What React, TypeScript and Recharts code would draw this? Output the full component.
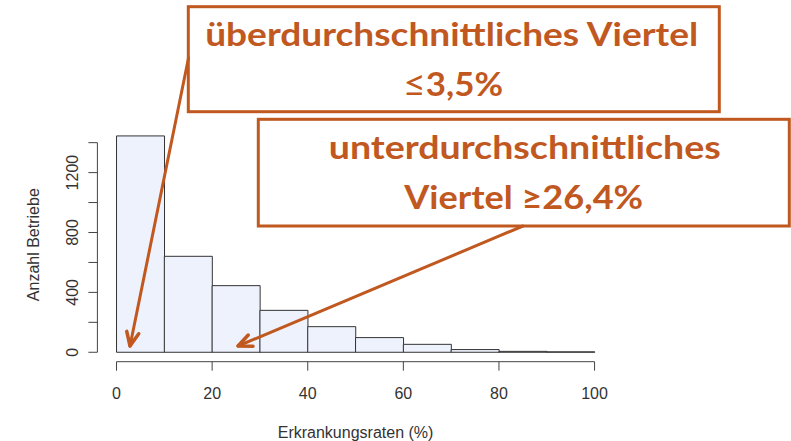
import { Bar, BarChart, ReferenceLine, XAxis, YAxis } from "recharts";

// histogram bins (10 % wide)
const binMids = [5, 15, 25, 35, 45, 55, 65, 75, 85, 95];
const counts = [1445, 641, 445, 280, 171, 98, 53, 18, 6, 3];
const xTicks = [0, 20, 40, 60, 80, 100];
const yTicks = [0, 200, 400, 600, 800, 1000, 1200, 1400];
const yLabelled = [0, 400, 800, 1200];

const topNote = ["überdurchschnittliches Viertel", "3,5%"];
const bottomNote = ["unterdurchschnittliches", "Viertel ≥26,4%"];

const data = binMids.map((mid, i) => ({ mid, count: counts[i] }));

const ORANGE = "#C0581F";
const AXIS = "#444";
const SANS = "'Liberation Sans', Arial, sans-serif";
const NOTE_FONT = "Lato, 'Open Sans', sans-serif";

function YTick({ x, y, payload }: any) {
  if (!yLabelled.includes(payload.value)) return <g />;
  return (
    <text
      x={x}
      y={y}
      transform={`rotate(-90, ${x}, ${y})`}
      textAnchor="middle"
      dominantBaseline="central"
      fontSize={16}
      fill="#333"
      fontFamily={SANS}
    >
      {payload.value}
    </text>
  );
}

function Arrow({ from, to }: { from: [number, number]; to: [number, number] }) {
  const ang = Math.atan2(to[1] - from[1], to[0] - from[0]);
  const len = 15;
  const spread = 0.42;
  const w1 = [to[0] - len * Math.cos(ang - spread), to[1] - len * Math.sin(ang - spread)];
  const w2 = [to[0] - len * Math.cos(ang + spread), to[1] - len * Math.sin(ang + spread)];
  return (
    <g stroke={ORANGE} strokeWidth={3} fill="none" strokeLinecap="round" strokeLinejoin="round">
      <line x1={from[0]} y1={from[1]} x2={to[0]} y2={to[1]} />
      <polyline points={`${w1[0]},${w1[1]} ${to[0]},${to[1]} ${w2[0]},${w2[1]}`} strokeWidth={3.5} />
    </g>
  );
}

export default function App() {
  return (
    <div style={{ position: "absolute", left: 0, top: 0, width: 791, height: 441, background: "#fff" }}>
      <BarChart
        width={791}
        height={441}
        data={data}
        margin={{ top: 127.7, right: 177.3, bottom: 0, left: 0 }}
        barCategoryGap={0}
        barGap={0}
        style={{ fontFamily: SANS }}
      >
        <XAxis
          dataKey="mid"
          type="number"
          domain={[-4, 104]}
          allowDataOverflow
          ticks={xTicks}
          interval={0}
          height={79.3}
          axisLine={false}
          tickSize={9}
          tickMargin={17}
          tickLine={{ stroke: AXIS }}
          tick={{ fill: "#333", fontSize: 16, fontFamily: SANS }}
          label={{ value: "Erkrankungsraten (%)", position: "center", dy: 31, fill: "#333", fontSize: 16 }}
        />
        <YAxis
          type="number"
          domain={[-63, 1500]}
          allowDataOverflow
          ticks={yTicks}
          interval={0}
          width={97.4}
          axisLine={false}
          tickSize={9}
          tickMargin={16}
          tickLine={{ stroke: AXIS }}
          tick={YTick}
          label={{ value: "Anzahl Betriebe", angle: -90, position: "center", dx: -15.5, fill: "#333", fontSize: 16 }}
        />
        <ReferenceLine segment={[{ x: 0, y: -63 }, { x: 100, y: -63 }]} stroke={AXIS} ifOverflow="visible" />
        <ReferenceLine segment={[{ x: -4, y: 0 }, { x: -4, y: 1400 }]} stroke={AXIS} ifOverflow="visible" />
        <Bar dataKey="count" fill="#EEF2FD" stroke="#333" strokeWidth={1} isAnimationActive={false} />
      </BarChart>

      <svg width={791} height={441} style={{ position: "absolute", left: 0, top: 0, pointerEvents: "none" }}>
        <rect x={188.3} y={6.7} width={531} height={105} fill="#fff" stroke={ORANGE} strokeWidth={3} />
        <text
          x={451.7}
          y={46}
          textAnchor="middle"
          fontFamily={NOTE_FONT}
          fontWeight={700}
          fontSize={32}
          fill={ORANGE}
          textLength={493}
          lengthAdjust="spacingAndGlyphs"
        >
          {topNote[0]}
        </text>
        <text
          x={453}
          y={96}
          textAnchor="middle"
          fontFamily={NOTE_FONT}
          fontWeight={700}
          fontSize={32}
          fill={ORANGE}
          textLength={100}
          lengthAdjust="spacingAndGlyphs"
        >
          <tspan fontWeight={400} fontSize={36}>≤</tspan>
          {topNote[1]}
        </text>

        <rect x={258.3} y={119.3} width={531} height={106.7} fill="#fff" stroke={ORANGE} strokeWidth={3} />
        <text
          x={524.8}
          y={158.5}
          textAnchor="middle"
          fontFamily={NOTE_FONT}
          fontWeight={700}
          fontSize={32}
          fill={ORANGE}
          textLength={392}
          lengthAdjust="spacingAndGlyphs"
        >
          {bottomNote[0]}
        </text>
        <text
          x={523.7}
          y={208.5}
          textAnchor="middle"
          fontFamily={NOTE_FONT}
          fontWeight={700}
          fontSize={32}
          fill={ORANGE}
          textLength={239}
          lengthAdjust="spacingAndGlyphs"
        >
          {bottomNote[1]}
        </text>

        <Arrow from={[188.5, 58]} to={[130, 346]} />
        <Arrow from={[523, 226]} to={[238, 346]} />
      </svg>
    </div>
  );
}
